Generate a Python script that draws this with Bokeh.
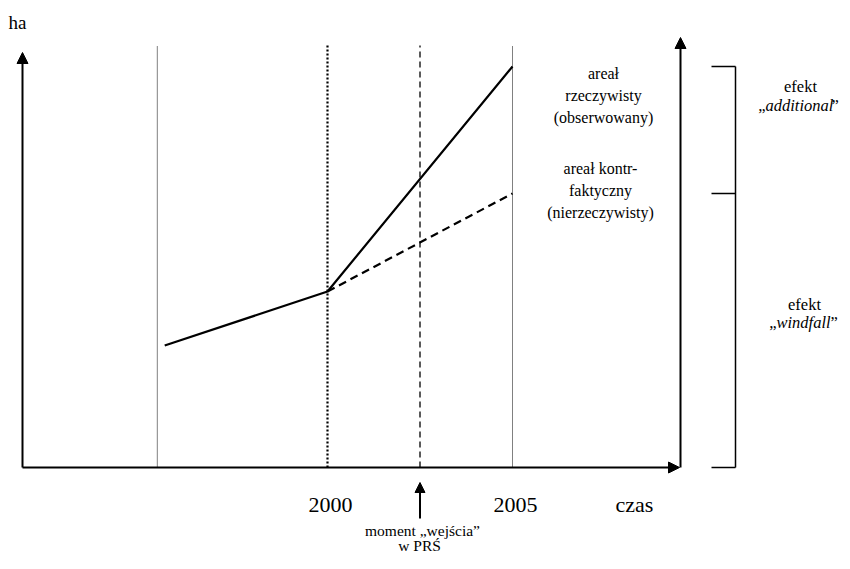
from bokeh.plotting import figure
from bokeh.models import Arrow, NormalHead, Label, Range1d
from bokeh.embed import file_html
from bokeh.resources import INLINE

# ---- data (schematic: years on x, area "ha" on y, arbitrary units) ----
actual_years = [1995.6, 2000, 2005]
actual_area = [12.2, 17.6, 40.1]
counter_years = [2000, 2005]
counter_area = [17.6, 27.4]
guide_years = [1995.4, 2000, 2002.5, 2005]   # vertical reference lines
entry_year = 2002.5
tick_years = [2000, 2005]
tick_labels = ["2000", "2005"]

FONT = "Liberation Serif"

# pixel -> data helpers for placing annotations (layout only)
def X(px):
    return 2000 + (px - 327) / 37.0

def Y(py):
    return (467 - py) / 10.0

W, H = 842, 553
p = figure(width=W, height=H, output_backend="svg", toolbar_location=None,
           x_range=Range1d(X(0), X(W)), y_range=Range1d(Y(H), Y(0)),
           min_border=0)
p.axis.visible = False
p.grid.visible = False
p.outline_line_color = None
p.background_fill_color = "white"
p.border_fill_color = "white"

top = Y(45)
# vertical guide lines
styles = [dict(line_width=1, line_dash="1 1"),
          dict(line_width=2.2, line_dash="2 2"),
          dict(line_width=1.3, line_dash="6 4"),
          dict(line_width=1, line_dash="1 1")]
for gx, st in zip(guide_years, styles):
    p.line([gx, gx], [0, top], line_color="black", **st)

# series
p.line(actual_years, actual_area, line_color="black", line_width=2.2)
p.line(counter_years, counter_area, line_color="black", line_width=2.2, line_dash="8 5")

# axes (arrows)
left_x = X(22)
right_x = X(680)
p.add_layout(Arrow(end=NormalHead(size=11, fill_color="black", line_color="black"),
                   x_start=left_x, y_start=0, x_end=left_x, y_end=Y(52),
                   line_width=2, line_color="black"))
p.add_layout(Arrow(end=NormalHead(size=11, fill_color="black", line_color="black"),
                   x_start=left_x, y_start=0, x_end=X(679), y_end=0,
                   line_width=2, line_color="black"))
p.add_layout(Arrow(end=NormalHead(size=11, fill_color="black", line_color="black"),
                   x_start=right_x, y_start=0, x_end=right_x, y_end=Y(37),
                   line_width=2, line_color="black"))
# entry arrow below axis
p.add_layout(Arrow(end=NormalHead(size=10, fill_color="black", line_color="black"),
                   x_start=entry_year, y_start=Y(518), x_end=entry_year, y_end=Y(482),
                   line_width=2, line_color="black"))

# bracket on the right
bx = X(735)
bx0 = X(711)
levels = [actual_area[-1], counter_area[-1], 0]
p.line([bx, bx], [levels[-1], levels[0]], line_color="black", line_width=1.5)
for lv in levels:
    p.line([bx0, bx], [lv, lv], line_color="black", line_width=1.5)

def lab(text, px, py, size="16px", style="normal", align="center", baseline="middle"):
    p.add_layout(Label(x=X(px), y=Y(py), text=text, text_font=FONT,
                       text_font_size=size, text_font_style=style,
                       text_align=align, text_baseline=baseline, text_color="black"))

lab("ha", 8, 22, size="19px", align="left")
for ty, tl in zip(tick_years, tick_labels):
    p.add_layout(Label(x=ty, y=Y(504), text=tl, text_font=FONT, text_font_size="22px",
                       text_align="center", text_baseline="middle", text_color="black",
                       x_offset=3))
lab("czas", 634, 504, size="22px")
lab("moment \u201ewejścia\u201d", 422, 530, size="15.5px")
lab("w  PRŚ", 421, 553, size="15.5px", baseline="bottom")

lab("areał", 603, 73)
lab("rzeczywisty", 603, 95)
lab("(obserwowany)", 603, 117)
lab("areał kontr-", 600, 168)
lab("faktyczny", 600, 190)
lab("(nierzeczywisty)", 600, 212)

lab("efekt", 800, 86, size="16.5px")
lab("\u201e", 765, 105, size="16.5px", align="right")
lab("additional", 765, 105, size="16.5px", style="italic", align="left")
lab("\u201d", 831, 105, size="16.5px", align="left")
lab("efekt", 804, 304, size="16.5px")
lab("\u201e", 776, 322, size="16.5px", align="right")
lab("windfall", 776, 322, size="16.5px", style="italic", align="left")
lab("\u201d", 830, 322, size="16.5px", align="left")

open("out.html", "w").write(file_html(p, INLINE))
